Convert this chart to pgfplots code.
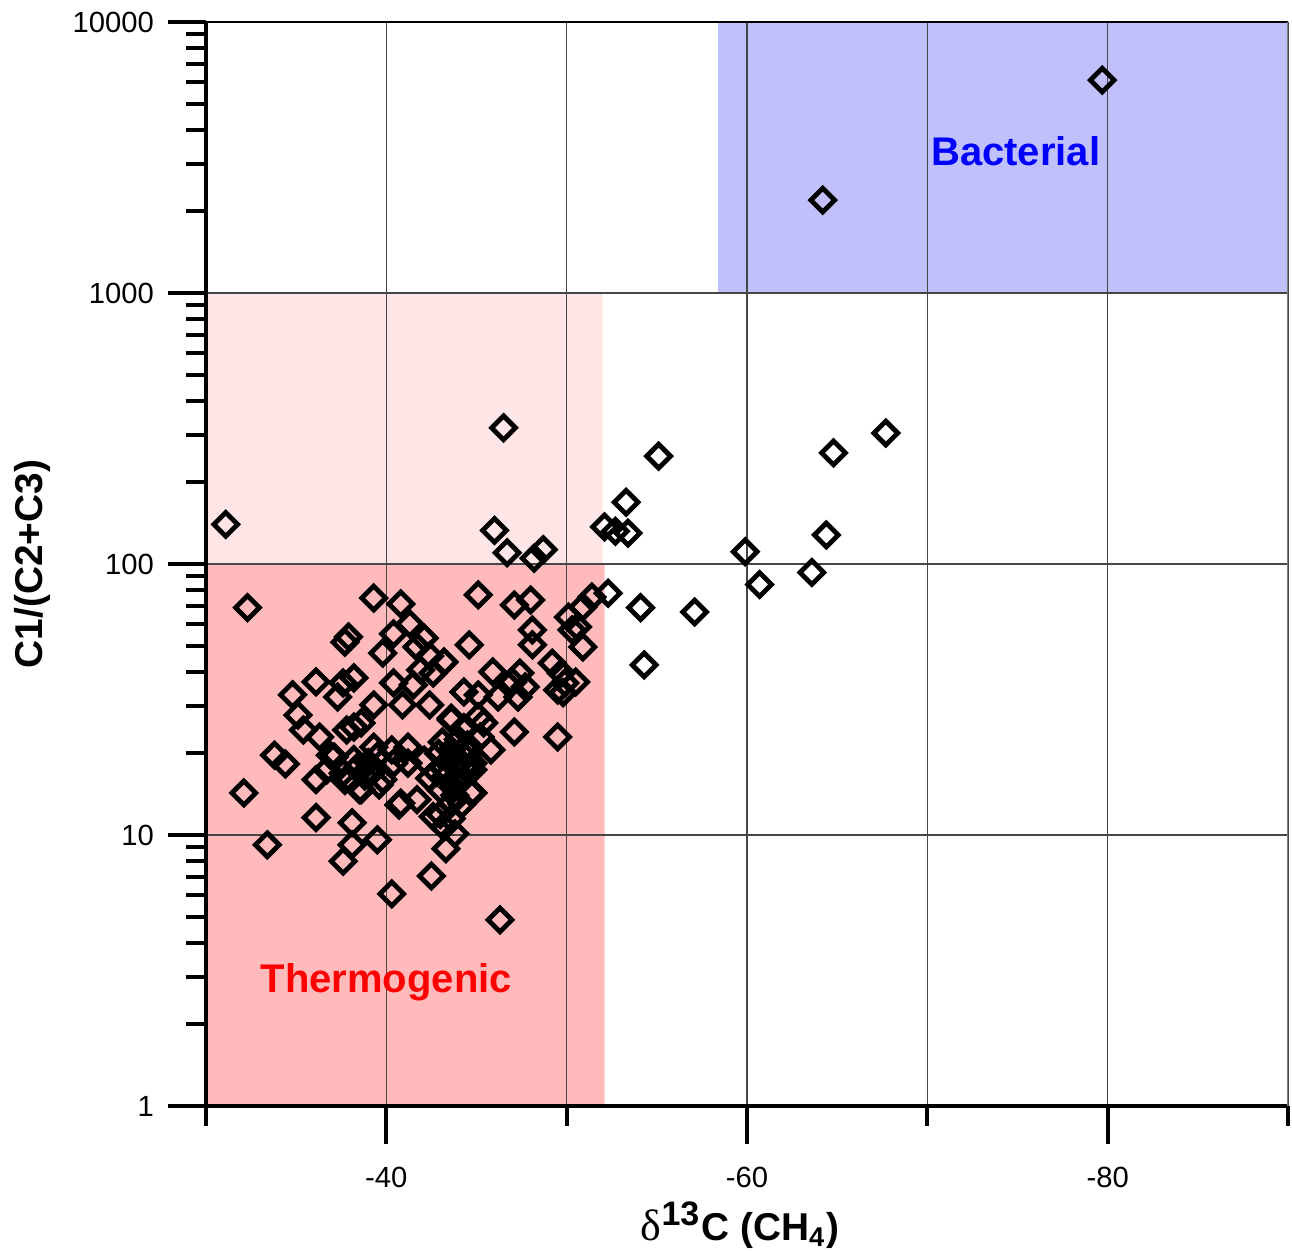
\documentclass[border=0pt]{standalone}
\usepackage{pgfplots}
\pgfplotsset{compat=1.18}
\usepackage{fontspec}
\setmainfont{Liberation Sans}
\newfontfamily\serifdelta{Liberation Serif}
\definecolor{thermo}{RGB}{255,187,187}
\definecolor{thermolight}{RGB}{255,230,230}
\definecolor{bact}{RGB}{192,192,250}
\definecolor{gridc}{RGB}{70,70,70}
\begin{document}
\begin{tikzpicture}
\begin{axis}[
  at={(0,0)}, anchor=south west,
  scale only axis, width=270.5pt, height=271pt,
  set layers,
  xmin=-90, xmax=-30, x dir=reverse,
  ymode=log, ymin=1, ymax=10000,
  axis x line*=bottom, axis y line*=left,
  axis line style={line width=1pt, black, -},
  xtick={-40,-60,-80}, xticklabels={-40,-60,-80},
  minor xtick={-30,-50,-70,-90},
  ytick={1,10,100,1000,10000}, yticklabels={1,10,100,1000,10000},
  minor ytick={2,3,4,5,6,7,8,9,20,30,40,50,60,70,80,90,200,300,400,500,600,700,800,900,2000,3000,4000,5000,6000,7000,8000,9000},
  tick align=outside,
  major tick length=9.5pt, minor tick length=5pt,
  every tick/.style={line width=1pt, black},
  xmajorgrids, xminorgrids, ymajorgrids,
  major grid style={line width=0.4pt, gridc},
  minor grid style={line width=0.4pt, gridc},
  ticklabel style={font=\fontsize{7.3}{8.7}\selectfont},
  xticklabel style={yshift=-2.2pt},
  xlabel={{\serifdelta\mdseries\fontsize{11}{12}\selectfont δ}\textsuperscript{\fontsize{8.5}{9}\selectfont 13}C (CH\textsubscript{4})},
  ylabel={C1/(C2+C3)},
  label style={font=\bfseries\fontsize{9.7}{11.6}\selectfont},
  xlabel style={at={(axis description cs:0.4935,-0.11)}, anchor=center},
  ylabel style={at={(axis description cs:-0.16,0.5)}, anchor=center},
  clip=true,
]
\addplot[on layer=axis background, fill=thermolight, draw=none] coordinates {(-30,100) (-52.0,100) (-52.0,1000) (-30,1000) (-30,100)};
\addplot[on layer=axis background, fill=thermo, draw=none] coordinates {(-30,1) (-52.1,1) (-52.1,100) (-30,100) (-30,1)};
\addplot[on layer=axis background, fill=bact, draw=none] coordinates {(-58.4,1000) (-90,1000) (-90,10000) (-58.4,10000) (-58.4,1000)};

\addplot[only marks, mark=square, mark size=2.1pt, mark options={rotate=45, line width=1.2pt, black}] coordinates {
(-79.7,6100) (-64.2,2200) (-67.7,304) (-64.8,257) (-55.1,250) (-46.5,318)
(-53.3,169) (-52.1,137) (-52.7,132) (-53.4,130) (-64.4,128) (-59.9,111)
(-60.7,84) (-63.6,93) (-57.1,66.5) (-54.1,69) (-54.3,42.4) (-52.3,78)
(-31.1,140) (-32.3,69) (-46.0,133) (-46.7,110) (-48.2,105) (-48.7,113)
(-46.3,4.86) (-40.3,6.06) (-42.5,7.06) (-33.4,9.2) (-32.1,14.3) (-37.6,8.0)
(-38.1,9.2) (-38.1,11.1) (-39.5,9.6) (-36.1,11.6) (-43.3,8.9) (-43.8,10.1)
(-33.8,19.7) (-34.4,18.3) (-35.1,27.7) (-34.8,32.9) (-35.4,24.4) (-36.3,23.0)
(-36.1,36.7) (-37.6,36.4) (-38.2,38.0) (-37.3,32.3) (-37.9,53.8) (-37.7,51.4)
(-39.3,74.9) (-40.8,71.2) (-41.3,60.1) (-40.4,55.2) (-42.1,53.3) (-39.8,46.9)
(-41.7,49.4) (-42.4,45.8) (-43.2,43.5) (-42.6,39.6) (-41.9,40.6) (-41.5,35.8)
(-40.4,36.4) (-40.9,30.2) (-39.3,30.2) (-42.4,30.2) (-36.1,16.0) (-37.1,19.4)
(-36.7,17.4) (-38.4,17.8) (-37.8,24.4) (-38.6,25.9) (-37.6,16.9) (-38.6,14.7)
(-39.8,16.0) (-39.3,21.1) (-40.3,20.6) (-41.2,21.1) (-41.2,18.4) (-40.4,18.4)
(-42.1,18.9) (-42.4,16.2) (-40.8,13.1) (-41.7,13.5) (-42.6,11.7) (-43.2,10.7)
(-43.6,13.1) (-43.0,14.7) (-43.7,15.0) (-44.3,17.8) (-43.6,20.6) (-43.2,17.8)
(-44.3,19.6) (-44.8,18.4) (-44.7,14.3) (-44.3,24.4) (-45.1,27.3) (-45.4,25.9)
(-45.2,23.0) (-45.8,20.6) (-44.3,33.7) (-43.6,27.0) (-44.6,50.3) (-45.1,76.9)
(-45.9,40.0) (-46.2,32.3) (-47.0,36.7) (-47.4,39.6) (-47.7,35.2) (-47.3,32.3)
(-47.1,70.6) (-48.0,73.6) (-48.1,57.1) (-48.1,50.3) (-47.1,24.0) (-49.5,23.0)
(-49.2,43.1) (-49.7,39.6) (-49.9,36.4) (-50.5,36.7) (-49.5,34.3) (-49.8,33.5)
(-50.1,63.7) (-50.3,57.1) (-50.9,49.4) (-50.9,69.4) (-51.4,75.5) (-50.6,58.6)
(-38.2,25.0) (-36.9,19.7) (-39.6,15.3) (-40.7,12.9) (-38.5,14.7) (-37.7,15.9)
(-43.6,26.6) (-44.3,24.9) (-45.1,32.9) (-44.8,17.4) (-44.8,14.3) (-43.0,11.9)
(-43.6,11.5) (-43.3,16.5) (-43.9,16.0) (-44.0,18.5) (-43.5,19.0) (-44.5,21.5)
(-44.0,22.5) (-43.8,14.0) (-44.2,13.0) (-42.9,20.0) (-43.1,22.0) (-42.8,17.0)
(-44.6,20.0) (-39.0,18.5) (-38.8,16.5) (-39.5,19.5) (-38.2,19.0) (-39.2,17.0)
(-38.0,16.0)
};

\draw[line width=0.4pt, black] (axis cs:-30,10000) -- (axis cs:-90,10000);
\draw[line width=0.5pt, gray] (axis cs:-90,10000) -- (axis cs:-90,1);
\node[font=\bfseries\fontsize{10}{12}\selectfont, text=blue] at (axis cs:-74.9,3342) {Bacterial};
\node[font=\bfseries\fontsize{10}{12}\selectfont, text=red] at (axis cs:-40.0,2.87) {Thermogenic};
\end{axis}
\pgfresetboundingbox
\path (-51.5pt,-36pt) rectangle (271.5pt,276.5pt);
\end{tikzpicture}
\end{document}
